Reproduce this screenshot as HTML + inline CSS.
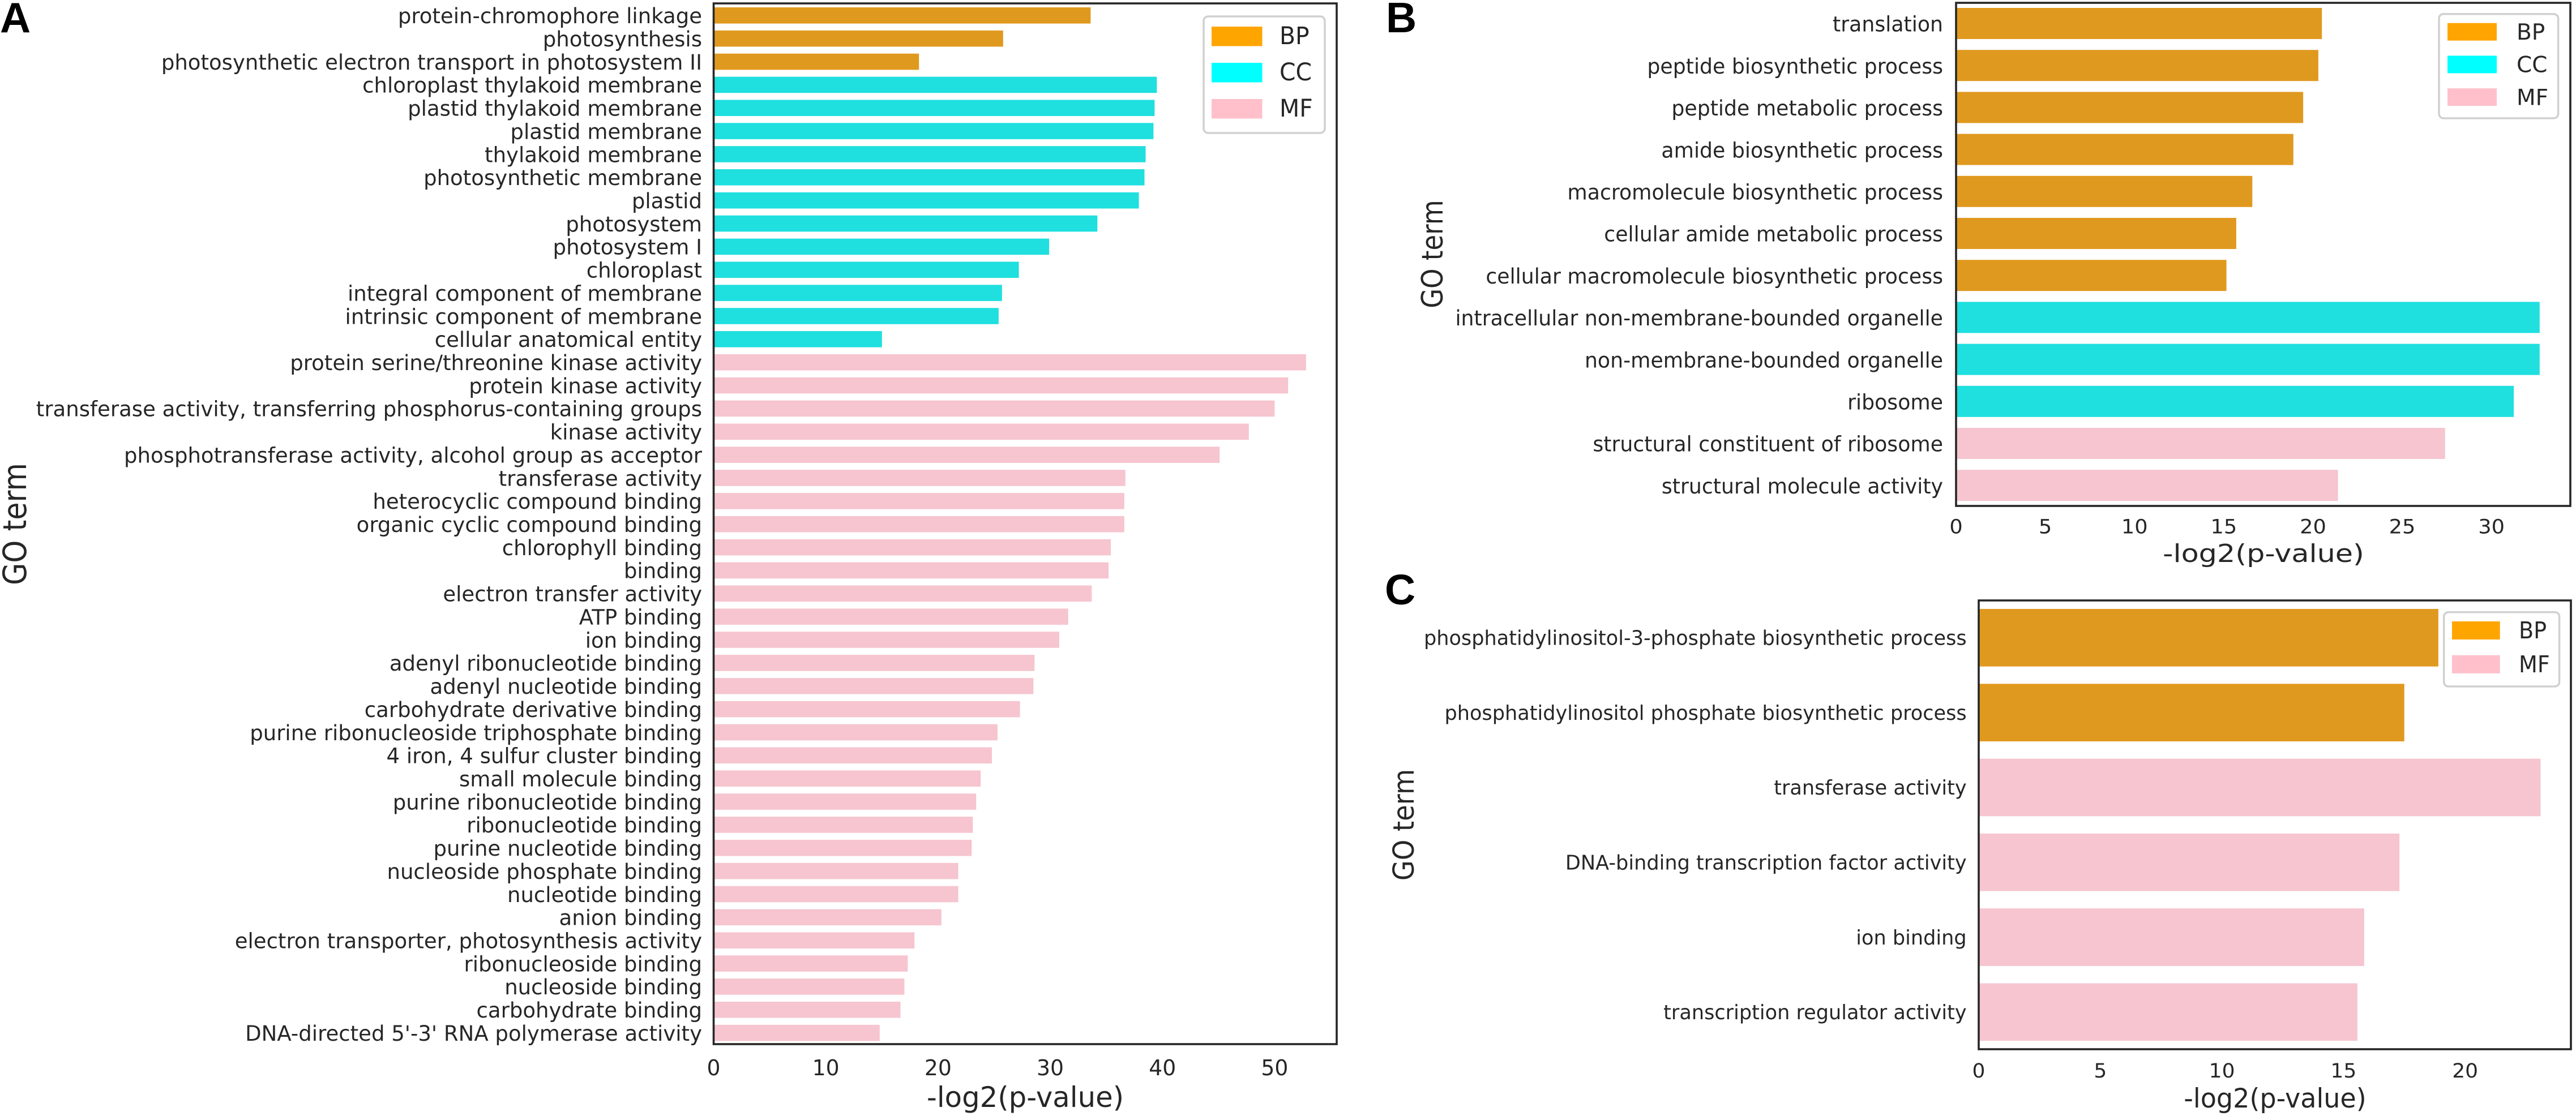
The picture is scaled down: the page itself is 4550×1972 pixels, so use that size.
<!DOCTYPE html>
<html lang="en">
<head>
<meta charset="utf-8">
<title>GO term enrichment bar charts</title>
<style>
  html, body { margin: 0; padding: 0; background: #ffffff; }
  svg { display: block; }
  text { font-family: "DejaVu Sans", "Liberation Sans", sans-serif; fill: #262626; }
  .letter { font-family: "Liberation Sans", sans-serif; font-weight: 700; fill: #000000; }
</style>
</head>
<body>
<svg id="figure" xmlns="http://www.w3.org/2000/svg" width="4550" height="1972" viewBox="0 0 4550 1972"></svg>
<script>
// ---------- Panel A data ----------
const aCategories = [
  "protein-chromophore linkage", "photosynthesis", "photosynthetic electron transport in photosystem II",
  "chloroplast thylakoid membrane", "plastid thylakoid membrane", "plastid membrane", "thylakoid membrane",
  "photosynthetic membrane", "plastid", "photosystem", "photosystem I", "chloroplast",
  "integral component of membrane", "intrinsic component of membrane", "cellular anatomical entity",
  "protein serine/threonine kinase activity", "protein kinase activity",
  "transferase activity, transferring phosphorus-containing groups", "kinase activity",
  "phosphotransferase activity, alcohol group as acceptor", "transferase activity",
  "heterocyclic compound binding", "organic cyclic compound binding", "chlorophyll binding", "binding",
  "electron transfer activity", "ATP binding", "ion binding", "adenyl ribonucleotide binding",
  "adenyl nucleotide binding", "carbohydrate derivative binding", "purine ribonucleoside triphosphate binding",
  "4 iron, 4 sulfur cluster binding", "small molecule binding", "purine ribonucleotide binding",
  "ribonucleotide binding", "purine nucleotide binding", "nucleoside phosphate binding", "nucleotide binding",
  "anion binding", "electron transporter, photosynthesis activity", "ribonucleoside binding",
  "nucleoside binding", "carbohydrate binding", "DNA-directed 5'-3' RNA polymerase activity"
];
const aValues = [
  33.6, 25.8, 18.3,
  39.5, 39.3, 39.2, 38.5, 38.4, 37.9, 34.2, 29.9, 27.2, 25.7, 25.4, 15.0,
  52.8, 51.2, 50.0, 47.7, 45.1, 36.7, 36.6, 36.6, 35.4, 35.2, 33.7, 31.6, 30.8, 28.6, 28.5,
  27.3, 25.3, 24.8, 23.8, 23.4, 23.1, 23.0, 21.8, 21.8, 20.3, 17.9, 17.3, 17.0, 16.65, 14.8
];
const aGroups = [
  "BP","BP","BP",
  "CC","CC","CC","CC","CC","CC","CC","CC","CC","CC","CC","CC",
  "MF","MF","MF","MF","MF","MF","MF","MF","MF","MF","MF","MF","MF","MF","MF",
  "MF","MF","MF","MF","MF","MF","MF","MF","MF","MF","MF","MF","MF","MF","MF"
];
const aTicks = [0, 10, 20, 30, 40, 50];
const aLegend = ["BP", "CC", "MF"];

// ---------- Panel B data ----------
const bCategories = [
  "translation", "peptide biosynthetic process", "peptide metabolic process", "amide biosynthetic process",
  "macromolecule biosynthetic process", "cellular amide metabolic process",
  "cellular macromolecule biosynthetic process", "intracellular non-membrane-bounded organelle",
  "non-membrane-bounded organelle", "ribosome", "structural constituent of ribosome",
  "structural molecule activity"
];
const bValues = [20.5, 20.3, 19.45, 18.9, 16.6, 15.7, 15.15, 32.7, 32.7, 31.25, 27.4, 21.4];
const bGroups = ["BP","BP","BP","BP","BP","BP","BP","CC","CC","CC","MF","MF"];
const bTicks = [0, 5, 10, 15, 20, 25, 30];
const bLegend = ["BP", "CC", "MF"];

// ---------- Panel C data ----------
const cCategories = [
  "phosphatidylinositol-3-phosphate biosynthetic process", "phosphatidylinositol phosphate biosynthetic process",
  "transferase activity", "DNA-binding transcription factor activity", "ion binding",
  "transcription regulator activity"
];
const cValues = [18.9, 17.5, 23.1, 17.3, 15.85, 15.57];
const cGroups = ["BP","BP","MF","MF","MF","MF"];
const cTicks = [0, 5, 10, 15, 20];
const cLegend = ["BP", "MF"];

// ---------- Colours ----------
const barColors = { BP: "#e0991f", CC: "#1fdfdf", MF: "#f6c5cf" };
const legendColors = { BP: "#ffa500", CC: "#00ffff", MF: "#ffc0cb" };

// ---------- Panel layout ----------
const panels = [
  { id: "a", letter: "A", letterX: 0, letterY: 57,
    categories: aCategories, values: aValues, groups: aGroups, ticks: aTicks, legend: aLegend,
    left: 1260.5, right: 2361, top: 6, bottom: 1845, xMax: 55.53,
    firstBarTop: 13, step: 40.86, barHeight: 28.6,
    labelRight: 1240, labelOffset: 13.8, labelSize: 37.5, labelStretch: 0.988,
    tickY: 1900, tickSize: 38.5, tickStretch: 0.98,
    titleX: 1811, titleY: 1956, titleSize: 50, titleStretch: 0.995,
    yTitleX: 46, yTitleY: 926, yTitleSize: 57, yTitleStretch: 0.89,
    legendBox: [2126, 29, 214, 206], swatchX: 2140, swatchW: 89.5, swatchH: 34.5,
    swatchY: 47, swatchStep: 64, legendTextX: 2260, legendBaseOffset: 31, legendSize: 43, legendStretch: 0.95 },
  { id: "b", letter: "B", letterX: 2448, letterY: 57,
    categories: bCategories, values: bValues, groups: bGroups, ticks: bTicks, legend: bLegend,
    left: 3455, right: 4540, top: 5, bottom: 894, xMax: 34.42,
    firstBarTop: 14, step: 74.2, barHeight: 55,
    labelRight: 3432, labelOffset: 14.2, labelSize: 37, labelStretch: 0.98,
    tickY: 942.7, tickSize: 35, tickStretch: 1.05,
    titleX: 3998, titleY: 993, titleSize: 44, titleStretch: 1.155,
    yTitleX: 2548, yTitleY: 449, yTitleSize: 52, yTitleStretch: 0.865,
    legendBox: [4308, 24.7, 210.6, 184.3], swatchX: 4323, swatchW: 87, swatchH: 31,
    swatchY: 40.7, swatchStep: 57.7, legendTextX: 4445, legendBaseOffset: 29.3, legendSize: 39, legendStretch: 1.0 },
  { id: "c", letter: "C", letterX: 2446, letterY: 1068,
    categories: cCategories, values: cValues, groups: cGroups, ticks: cTicks, legend: cLegend,
    left: 3495, right: 4541, top: 1061, bottom: 1854, xMax: 24.35,
    firstBarTop: 1076, step: 132.3, barHeight: 101.7,
    labelRight: 3473.7, labelOffset: 12.7, labelSize: 36, labelStretch: 0.975,
    tickY: 1904, tickSize: 35, tickStretch: 1.03,
    titleX: 4018.5, titleY: 1957, titleSize: 47, titleStretch: 0.98,
    yTitleX: 2497, yTitleY: 1457.5, yTitleSize: 51, yTitleStretch: 0.909,
    legendBox: [4316.7, 1081.7, 203.9, 131.3], swatchX: 4331, swatchW: 84.7, swatchH: 32,
    swatchY: 1098, swatchStep: 59.8, legendTextX: 4449, legendBaseOffset: 30, legendSize: 41, legendStretch: 0.93 }
];

const svg = document.getElementById("figure");
const NS = "http://www.w3.org/2000/svg";

function make(tag, attrs, parent) {
  const node = document.createElementNS(NS, tag);
  for (const k in attrs) node.setAttribute(k, attrs[k]);
  parent.appendChild(node);
  return node;
}

function stretchedText(content, x, y, size, stretch, anchor, parent) {
  const node = make("text", {
    transform: "translate(" + x + "," + y + ") scale(" + stretch + ",1)",
    "font-size": size,
    "text-anchor": anchor
  }, parent);
  node.textContent = content;
  return node;
}

function slug(s) {
  return s.toLowerCase().replace(/[^a-z0-9]+/g, "-").replace(/^-|-$/g, "");
}

function drawPanel(p) {
  const xScale = v => p.left + (v / p.xMax) * (p.right - p.left);
  const yBand = i => p.firstBarTop + i * p.step;

  const g = make("g", {}, svg);
  
  

  const letter = make("text", { x: p.letterX, y: p.letterY, "font-size": 75, class: "letter" }, g);
  letter.textContent = p.letter;
  
  

  // bars and category labels
  p.categories.forEach((name, i) => {
    const bar = make("rect", {
      x: xScale(0),
      y: yBand(i),
      width: xScale(p.values[i]) - xScale(0),
      height: p.barHeight,
      fill: barColors[p.groups[i]]
    }, g);
    
    

    const label = stretchedText(name, p.labelRight, yBand(i) + p.barHeight / 2 + p.labelOffset,
      p.labelSize, p.labelStretch, "end", g);
    
    
  });

  // frame
  const frame = make("rect", {
    x: p.left, y: p.top, width: p.right - p.left, height: p.bottom - p.top,
    fill: "none", stroke: "#262626", "stroke-width": 3.6
  }, g);
  
  

  // x ticks
  p.ticks.forEach(t => {
    const tick = stretchedText(String(t), xScale(t), p.tickY, p.tickSize, p.tickStretch, "middle", g);
    
    
  });

  // axis titles
  const xTitle = stretchedText("-log2(p-value)", p.titleX, p.titleY, p.titleSize, p.titleStretch, "middle", g);
  
  

  const yTitle = make("text", {
    transform: "translate(" + p.yTitleX + "," + p.yTitleY + ") rotate(-90) scale(" + p.yTitleStretch + ",1)",
    "font-size": p.yTitleSize,
    "text-anchor": "middle"
  }, g);
  yTitle.textContent = "GO term";
  
  

  // legend
  const lg = make("g", {}, g);
  
  
  const box = p.legendBox;
  const legendFrame = make("rect", {
    x: box[0], y: box[1], width: box[2], height: box[3], rx: 8, ry: 8,
    fill: "#ffffff", stroke: "#d0d0d0", "stroke-width": 3.5
  }, lg);
  
  

  p.legend.forEach((key, i) => {
    const sy = p.swatchY + i * p.swatchStep;
    const swatch = make("rect", {
      x: p.swatchX, y: sy, width: p.swatchW, height: p.swatchH, fill: legendColors[key]
    }, lg);
    
    

    const entry = stretchedText(key, p.legendTextX, sy + p.legendBaseOffset, p.legendSize, p.legendStretch, "start", lg);
    
    
  });
}

panels.forEach(drawPanel);
</script>
</body>
</html>
